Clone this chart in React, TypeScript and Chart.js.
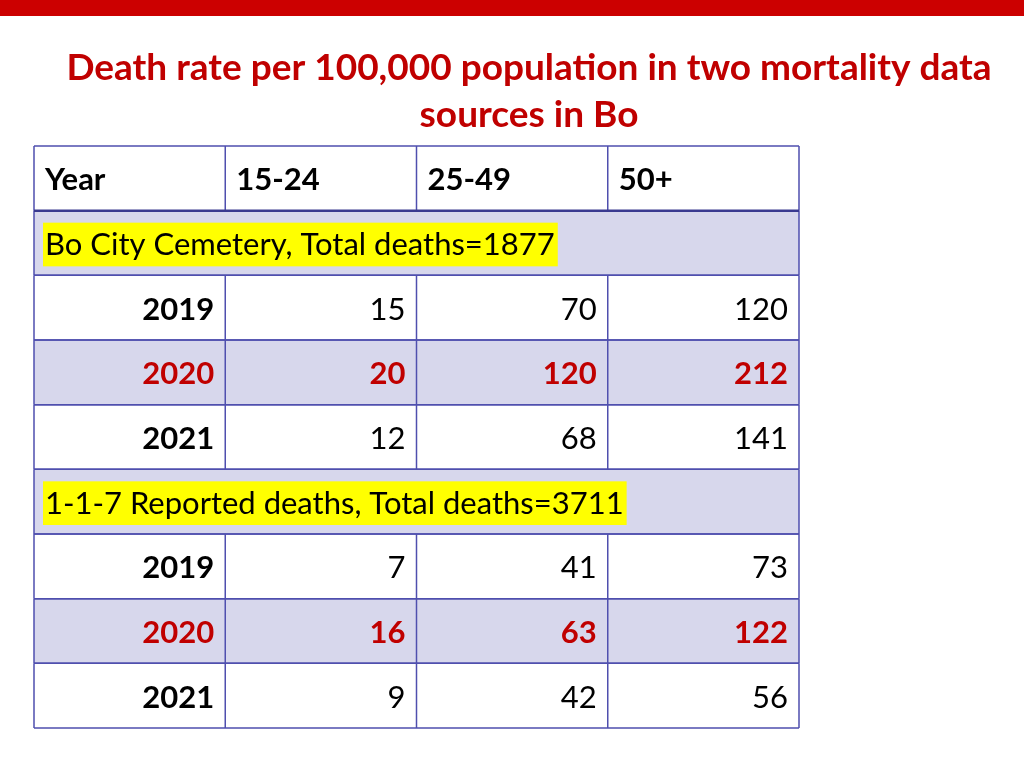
import React, { useEffect, useRef } from "react";
import { Chart, registerables } from "chart.js";

Chart.register(...registerables);

const titleLines = ["Death rate per 100,000 population in two mortality data", "sources in Bo"];
const columns = ["Year", "15-24", "25-49", "50+"];
const sections = ["Bo City Cemetery, Total deaths=1877", "1-1-7 Reported deaths, Total deaths=3711"];
const years = ["2019", "2020", "2021"];
const highlightYear = "2020";
const cemetery15to24 = [15, 20, 12];
const cemetery25to49 = [70, 120, 68];
const cemetery50plus = [120, 212, 141];
const reported15to24 = [7, 16, 9];
const reported25to49 = [41, 63, 42];
const reported50plus = [73, 122, 56];

const RED = "#c00000";
const BORDER = "#4f4fae";
const BORDER_DARK = "#3a3a90";
const LAVENDER = "#d7d7ec";
const FONT = "Lato, 'Open Sans', sans-serif";
const TS = 31;

type Row =
  | { kind: "header"; cells: string[] }
  | { kind: "section"; label: string }
  | { kind: "data"; year: string; cells: number[] };

function buildRows(): Row[] {
  const rows: Row[] = [{ kind: "header", cells: columns }];
  const groups = [
    [cemetery15to24, cemetery25to49, cemetery50plus],
    [reported15to24, reported25to49, reported50plus],
  ];
  sections.forEach((label, g) => {
    rows.push({ kind: "section", label });
    years.forEach((year, i) => {
      rows.push({ kind: "data", year, cells: groups[g].map((s) => s[i]) });
    });
  });
  return rows;
}

const tablePlugin = {
  id: "tablePlugin",
  beforeDraw(chart: any) {
    const ctx: CanvasRenderingContext2D = chart.ctx;
    const xs = chart.scales.x;
    const ys = chart.scales.y;
    const rows = buildRows();
    const W = chart.width;
    ctx.save();
    ctx.fillStyle = "#ffffff";
    ctx.fillRect(0, 0, W, chart.height);
    // top bar
    ctx.fillStyle = "#cc0000";
    ctx.fillRect(0, 0, W, 16);
    // title
    ctx.fillStyle = RED;
    ctx.font = `bold 37px ${FONT}`;
    ctx.textAlign = "center";
    ctx.textBaseline = "alphabetic";
    ctx.fillText(titleLines[0], 529, 80);
    ctx.fillText(titleLines[1], 529, 127);

    const x0 = xs.getPixelForValue(0);
    const x4 = xs.getPixelForValue(columns.length);
    const pad = 11;
    rows.forEach((row, r) => {
      const top = ys.getPixelForValue(r);
      const bot = ys.getPixelForValue(r + 1);
      const mid = (top + bot) / 2 + 2;
      const isHi = row.kind === "section" || (row.kind === "data" && row.year === highlightYear);
      ctx.fillStyle = isHi ? LAVENDER : "#ffffff";
      ctx.fillRect(x0, top, x4 - x0, bot - top);
      ctx.textBaseline = "middle";
      if (row.kind === "header") {
        ctx.font = `bold ${TS}px ${FONT}`;
        ctx.fillStyle = "#000000";
        ctx.textAlign = "left";
        row.cells.forEach((c, i) => ctx.fillText(c, xs.getPixelForValue(i) + pad, mid));
      } else if (row.kind === "section") {
        ctx.font = `${TS}px ${FONT}`;
        const w = ctx.measureText(row.label).width;
        ctx.fillStyle = "#ffff00";
        ctx.fillRect(x0 + 9, top + 12, w + 5, bot - top - 21);
        ctx.fillStyle = "#000000";
        ctx.textAlign = "left";
        ctx.fillText(row.label, x0 + pad, mid);
      } else {
        const hi = row.year === highlightYear;
        ctx.textAlign = "right";
        ctx.font = `bold ${TS}px ${FONT}`;
        ctx.fillStyle = hi ? RED : "#000000";
        ctx.fillText(row.year, xs.getPixelForValue(1) - pad, mid);
        ctx.font = `${hi ? "bold " : ""}${TS}px ${FONT}`;
        row.cells.forEach((v, i) => ctx.fillText(String(v), xs.getPixelForValue(i + 2) - pad, mid));
      }
    });
    // grid lines
    ctx.strokeStyle = BORDER;
    ctx.lineWidth = 1.5;
    rows.forEach((row, r) => {
      const top = ys.getPixelForValue(r);
      const bot = ys.getPixelForValue(r + 1);
      ctx.beginPath();
      ctx.moveTo(x0, top);
      ctx.lineTo(x4, top);
      ctx.moveTo(x0, bot);
      ctx.lineTo(x4, bot);
      ctx.moveTo(x0, top);
      ctx.lineTo(x0, bot);
      ctx.moveTo(x4, top);
      ctx.lineTo(x4, bot);
      if (row.kind !== "section") {
        for (let i = 1; i < columns.length; i++) {
          const x = xs.getPixelForValue(i);
          ctx.moveTo(x, top);
          ctx.lineTo(x, bot);
        }
      }
      ctx.stroke();
    });
    ctx.strokeStyle = BORDER_DARK;
    ctx.lineWidth = 2.5;
    ctx.beginPath();
    const hb = ys.getPixelForValue(1);
    ctx.moveTo(x0, hb);
    ctx.lineTo(x4, hb);
    ctx.stroke();
    ctx.restore();
  },
};

export default function App() {
  const ref = useRef<HTMLCanvasElement | null>(null);
  useEffect(() => {
    document.body.style.margin = "0";
    const rowCount = 1 + sections.length * (1 + years.length);
    const chart = new Chart(ref.current as HTMLCanvasElement, {
      type: "scatter",
      data: { datasets: [{ data: [] }] },
      options: {
        animation: false,
        responsive: false,
        layout: { padding: { left: 34, right: 225, top: 146, bottom: 40 } },
        plugins: { legend: { display: false }, tooltip: { enabled: false }, title: { display: false } },
        scales: {
          x: { type: "linear", min: 0, max: columns.length, display: false },
          y: { type: "linear", min: 0, max: rowCount, reverse: true, display: false },
        },
      },
      plugins: [tablePlugin],
    });
    return () => chart.destroy();
  }, []);
  return <canvas ref={ref} width={1024} height={768} style={{ display: "block" }} />;
}
